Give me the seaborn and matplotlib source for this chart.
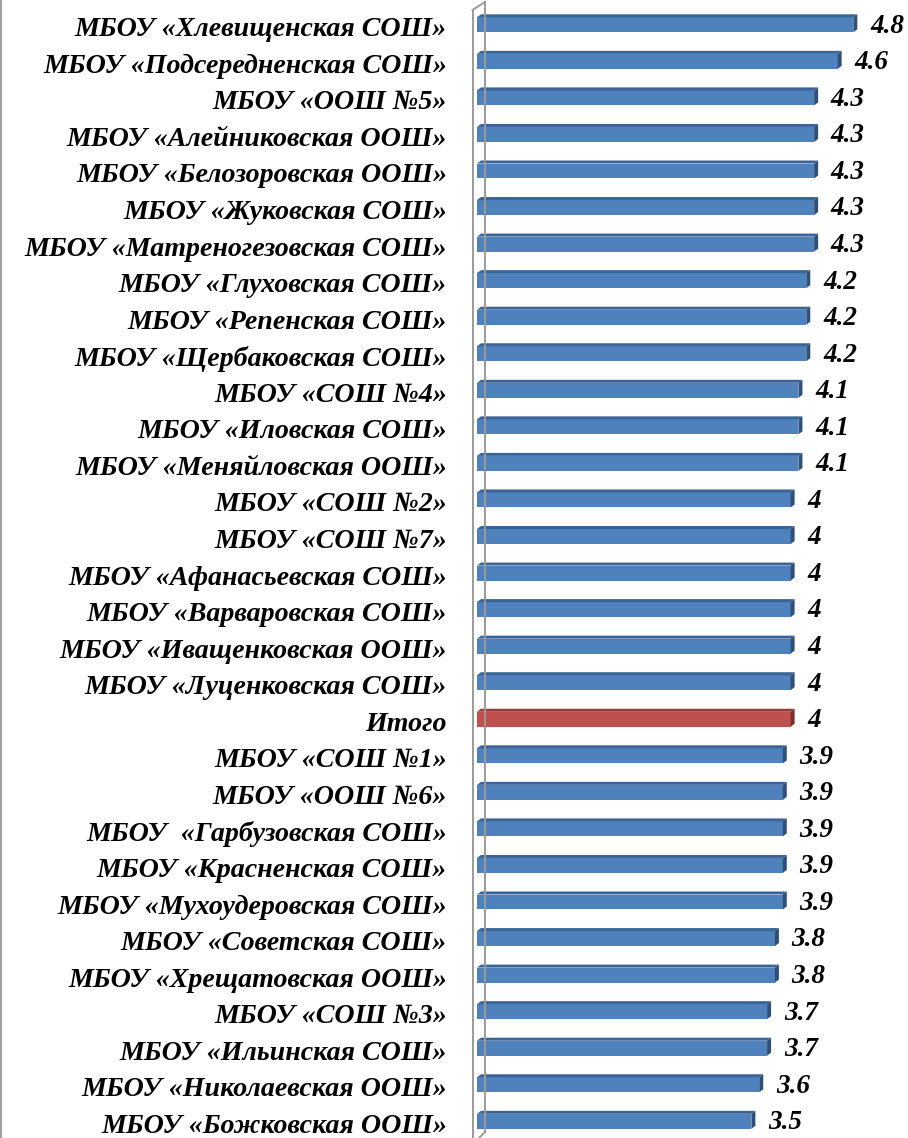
import matplotlib
matplotlib.use("Agg")
import matplotlib.pyplot as plt
import matplotlib.transforms as mtransforms
from matplotlib.patches import Polygon
from matplotlib.lines import Line2D
import seaborn as sns
import pandas as pd

schools = [
    "МБОУ «Хлевищенская СОШ»",
    "МБОУ «Подсередненская СОШ»",
    "МБОУ «ООШ №5»",
    "МБОУ «Алейниковская ООШ»",
    "МБОУ «Белозоровская ООШ»",
    "МБОУ «Жуковская СОШ»",
    "МБОУ «Матреногезовская СОШ»",
    "МБОУ «Глуховская СОШ»",
    "МБОУ «Репенская СОШ»",
    "МБОУ «Щербаковская СОШ»",
    "МБОУ «СОШ №4»",
    "МБОУ «Иловская СОШ»",
    "МБОУ «Меняйловская ООШ»",
    "МБОУ «СОШ №2»",
    "МБОУ «СОШ №7»",
    "МБОУ «Афанасьевская СОШ»",
    "МБОУ «Варваровская СОШ»",
    "МБОУ «Иващенковская ООШ»",
    "МБОУ «Луценковская СОШ»",
    "Итого",
    "МБОУ «СОШ №1»",
    "МБОУ «ООШ №6»",
    "МБОУ  «Гарбузовская СОШ»",
    "МБОУ «Красненская СОШ»",
    "МБОУ «Мухоудеровская СОШ»",
    "МБОУ «Советская СОШ»",
    "МБОУ «Хрещатовская ООШ»",
    "МБОУ «СОШ №3»",
    "МБОУ «Ильинская СОШ»",
    "МБОУ «Николаевская ООШ»",
    "МБОУ «Божковская ООШ»",
]
scores = [4.8, 4.6, 4.3, 4.3, 4.3, 4.3, 4.3, 4.2, 4.2, 4.2, 4.1, 4.1, 4.1,
          4.0, 4.0, 4.0, 4.0, 4.0, 4.0, 4.0, 3.9, 3.9, 3.9, 3.9, 3.9,
          3.8, 3.8, 3.7, 3.7, 3.6, 3.5]
total_label = "Итого"

BLUE, BLUE_TOP, BLUE_SIDE = "#4F81BD", "#3A6496", "#2E4F78"
RED, RED_TOP, RED_SIDE = "#C0504D", "#963C3A", "#7A2F2D"

df = pd.DataFrame({"school": schools, "score": scores})
palette = {s: (RED if s == total_label else BLUE) for s in schools}

W, H = 908, 1138
fig = plt.figure(figsize=(W / 100, H / 100), dpi=100)
x0px = 477
ax = fig.add_axes([x0px / W, 0, 1 - x0px / W, 1])

sns.barplot(data=df, x="score", y="school", hue="school", palette=palette,
            orient="h", width=0.41, dodge=False, legend=False,
            saturation=1, ax=ax, zorder=3, edgecolor="none")

scale = 78.4  # px per unit
ax.set_xlim(0, (W - x0px) / scale)
row = 36.55
first = 24.8
ax.set_ylim(-first / row + H / row, -first / row)

# 3D faces
dx = 4 / scale
dy = 3 / row
for p, s in zip(ax.patches, schools):
    top_c = RED_TOP if s == total_label else BLUE_TOP
    side_c = RED_SIDE if s == total_label else BLUE_SIDE
    bx, by = p.get_x(), p.get_y()
    bw, bh = p.get_width(), p.get_height()
    ytop = by
    ybot = by + bh
    top = Polygon([(bx, ytop), (bx + dx, ytop - dy), (bx + bw + dx, ytop - dy), (bx + bw, ytop)],
                  closed=True, facecolor=top_c, edgecolor="none", zorder=3)
    side = Polygon([(bx + bw, ytop), (bx + bw + dx, ytop - dy), (bx + bw + dx, ybot - dy), (bx + bw, ybot)],
                   closed=True, facecolor=side_c, edgecolor="none", zorder=3)
    ax.add_patch(top)
    ax.add_patch(side)

# value labels
for i, v in enumerate(scores):
    ax.annotate(f"{v:g}", xy=(v, i), xytext=(12, -1), textcoords="offset points",
                ha="left", va="center", fontsize=19.5, fontweight="bold",
                fontstyle="italic", family="Liberation Serif", color="black",
                annotation_clip=False)

ax.set_xlabel("")
ax.set_ylabel("")
ax.set_xticks([])
ax.tick_params(axis="y", length=0, pad=21.6)
shift = mtransforms.ScaledTranslation(0, -2 / 100, fig.dpi_scale_trans)
for lab in ax.get_yticklabels():
    lab.set_fontfamily("Liberation Serif")
    lab.set_fontweight("bold")
    lab.set_fontstyle("italic")
    lab.set_fontsize(20.2)
    lab.set_transform(lab.get_transform() + shift)
for sp in ax.spines.values():
    sp.set_visible(False)
ax.patch.set_alpha(0)

def fx(px):
    return px / W

def fy(py):
    return 1 - py / H

gray = "#9A9A9A"
fig.add_artist(Line2D([fx(472.5), fx(472.5)], [fy(10), fy(H)], color=gray, lw=1.4, zorder=1))
fig.add_artist(Line2D([fx(472.5), fx(485)], [fy(10), fy(2)], color=gray, lw=1.4, zorder=1))
fig.add_artist(Line2D([fx(485), fx(485)], [fy(2), fy(1132)], color=gray, lw=1.4, zorder=1))
fig.add_artist(Line2D([fx(485), fx(479)], [fy(1132), fy(H)], color=gray, lw=1.4, zorder=1))
fig.add_artist(Line2D([fx(0.8), fx(0.8)], [0, 1], color="#8C8C8C", lw=1.2, zorder=1))

fig.savefig("out.png", dpi=100)
